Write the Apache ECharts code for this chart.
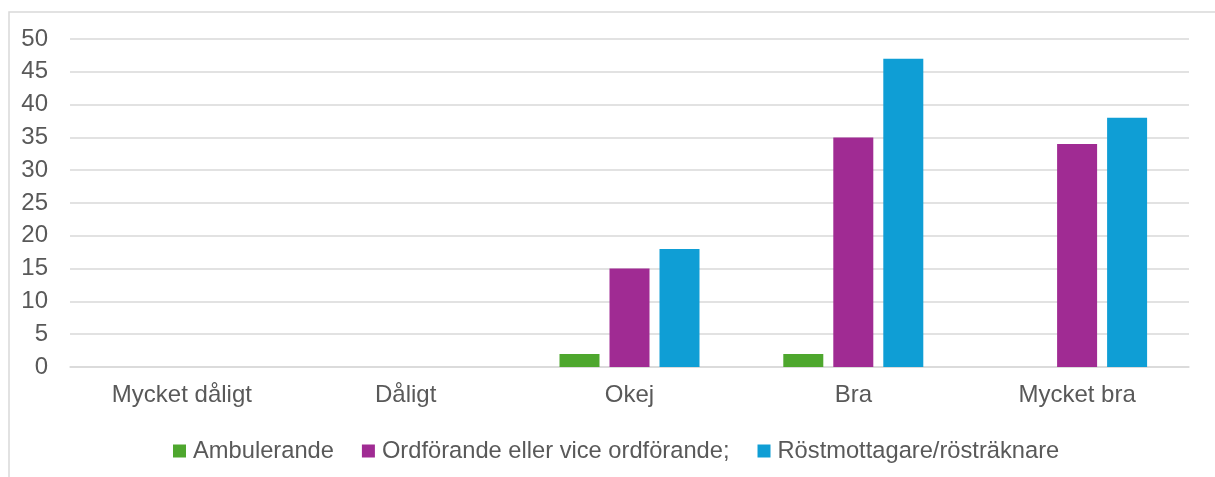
<!DOCTYPE html>
<html>
<head>
<meta charset="utf-8">
<script src="https://cdn.jsdelivr.net/npm/echarts@6/dist/echarts.min.js"></script>
<style>html,body{margin:0;padding:0;background:#fff}#c{width:1215px;height:477px}</style>
</head>
<body>
<div id="c"></div>
<script>
const categories = ['Mycket dåligt', 'Dåligt', 'Okej', 'Bra', 'Mycket bra'];
const seriesNames = ['Ambulerande', 'Ordförande eller vice ordförande;', 'Röstmottagare/rösträknare'];
const ambulerande = [0, 0, 2, 2, 0];
const ordforande = [0, 0, 15, 35, 34];
const rostmottagare = [0, 0, 18, 47, 38];
const colors = ['#4EA72E', '#A02B93', '#0F9ED5'];

const FONT = 'Liberation Sans, Arial, sans-serif';
const TXT = '#595959';
const FS = 24;
const chart = echarts.init(document.getElementById('c'));
const mk = (name, data, color) => ({
  name, type: 'bar', data, barWidth: 40, barGap: '25%',
  itemStyle: { color }, emphasis: { disabled: true }
});
chart.setOption({
  animation: false,
  graphic: [{
    type: 'rect', shape: { x: 9, y: 12, width: 1400, height: 800 },
    style: { fill: 'none', stroke: '#d9d9d9', lineWidth: 1.5 }, silent: true
  }],
  grid: { left: 70, right: 26, top: 39, bottom: 110, containLabel: false },
  legend: {
    left: 168, top: 434, itemWidth: 13, itemHeight: 13, itemGap: 28,
    icon: 'rect',
    textStyle: { color: TXT, fontSize: 23.7, fontFamily: FONT, padding: [0, 0, 0, 2] },
    data: seriesNames
  },
  xAxis: {
    type: 'category', data: categories,
    axisLine: { lineStyle: { color: '#d9d9d9', width: 1.5 } },
    axisTick: { show: false },
    axisLabel: { color: TXT, fontSize: FS, fontFamily: FONT, margin: 16 }
  },
  yAxis: {
    type: 'value', min: 0, max: 50, interval: 5,
    axisLine: { show: false }, axisTick: { show: false },
    splitLine: { lineStyle: { color: '#d9d9d9', width: 1.5 } },
    axisLabel: { color: TXT, fontSize: FS, fontFamily: FONT, margin: 22, padding: [3, 0, 0, 0] }
  },
  series: [
    mk(seriesNames[0], ambulerande, colors[0]),
    mk(seriesNames[1], ordforande, colors[1]),
    mk(seriesNames[2], rostmottagare, colors[2])
  ]
});
</script>
</body>
</html>
